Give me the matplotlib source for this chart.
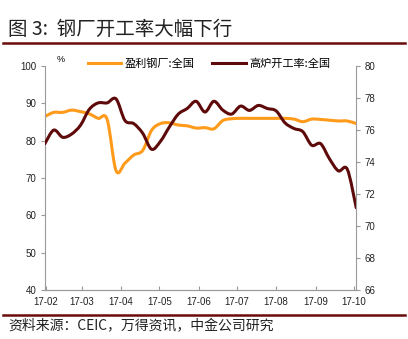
import matplotlib
matplotlib.use("Agg")
import matplotlib.pyplot as plt
import matplotlib.dates as mdates
from matplotlib.lines import Line2D
from matplotlib.path import Path
from matplotlib.patches import PathPatch
import numpy as np
import pandas as pd

plt.rcParams['font.family'] = ['Liberation Sans', 'Noto Sans CJK SC', 'DejaVu Sans']
cjk = ['Noto Sans CJK SC', 'DejaVu Sans']

# 周度数据，2017-01-31 起
dates = pd.date_range('2017-01-31', periods=36, freq='7D')

# 盈利钢厂占比:全国 (%)，左轴
profit_mills = [86.5, 87.6, 87.6, 88.2, 87.8, 87.2, 86.0, 85.7, 72.0, 74.0,
                76.2, 77.4, 82.8, 84.6, 84.8, 84.2, 84.0, 83.4, 83.5, 83.2,
                85.4, 85.9, 86.0, 86.0, 86.0, 86.0, 86.0, 86.0, 85.8, 85.1,
                85.8, 85.7, 85.5, 85.3, 85.3, 84.6]

# 高炉开工率:全国 (%)，右轴
blast_furnace = [75.15, 76.0, 75.55, 75.75, 76.3, 77.3, 77.7, 77.7, 77.95, 76.6,
                 76.4, 75.8, 74.8, 75.3, 76.2, 77.0, 77.35, 77.8, 77.13, 77.8,
                 77.25, 77.0, 77.5, 77.23, 77.54, 77.35, 77.2, 76.45, 76.1, 75.9,
                 75.05, 75.15, 74.2, 73.45, 73.55, 71.15]

orange = '#FF9A1A'
darkred = '#5E0A0A'
rule = '#6B0A0A'
axis_c = '#9A9A9A'


def smooth_line(a, x, y, color, lw=2.2):
    # 平滑折线：用三次贝塞尔曲线连接各数据点（Catmull-Rom 切线）
    x = np.asarray(mdates.date2num(x), float)
    y = np.asarray(y, float)
    pts = np.column_stack([x, y])
    ext = np.vstack([pts[0], pts, pts[-1]])
    verts = [pts[0]]
    codes = [Path.MOVETO]
    for i in range(len(pts) - 1):
        p0, p1, p2, p3 = ext[i], ext[i + 1], ext[i + 2], ext[i + 3]
        c1 = p1 + (p2 - p0) / 6.0
        c2 = p2 - (p3 - p1) / 6.0
        verts += [c1, c2, p2]
        codes += [Path.CURVE4] * 3
    patch = PathPatch(Path(verts, codes), facecolor='none', edgecolor=color,
                      lw=lw, capstyle='round', joinstyle='round')
    a.add_patch(patch)


fig = plt.figure(figsize=(4.08, 3.39), dpi=100)
ax = fig.add_axes([0.110, 0.1445, 0.763, 0.6605])
ax2 = ax.twinx()

smooth_line(ax, dates, profit_mills, orange)
smooth_line(ax2, dates, blast_furnace, darkred)

ax.set_ylim(40, 100)
ax.set_yticks(range(40, 101, 10))
ax2.set_ylim(66, 80)
ax2.set_yticks(range(66, 81, 2))

ax.set_xlim(mdates.date2num(pd.Timestamp('2017-01-31')),
            mdates.date2num(pd.Timestamp('2017-10-03')))
months = pd.date_range('2017-02-01', '2017-10-01', freq='MS')
ax.set_xticks(mdates.date2num(months))
ax.set_xticklabels([d.strftime('%y-%m') for d in months])

for a in (ax, ax2):
    a.spines['top'].set_visible(False)
    a.spines['left'].set_color(axis_c)
    a.spines['right'].set_color(axis_c)
    a.spines['bottom'].set_color(axis_c)
    a.tick_params(colors='#222222', labelsize=7, length=3, width=0.8)
    a.tick_params(axis='both', color=axis_c)
ax.spines['right'].set_visible(False)
ax2.spines['left'].set_visible(False)
ax.tick_params(axis='x', direction='in', pad=5)
ax.tick_params(axis='y', direction='out', length=3, pad=3)
ax2.tick_params(axis='y', direction='out', length=3, pad=3)

# 单位与图例
fig.text(61 / 408, 1 - 60 / 339, '%', fontsize=6.5, ha='center', va='center')
handles = [Line2D([], [], color=orange, lw=2.2),
           Line2D([], [], color=darkred, lw=2.2)]
leg = fig.legend(handles, ['盈利钢厂:全国', '高炉开工率:全国'],
                 loc='center left', bbox_to_anchor=(78 / 408, 1 - 64 / 339),
                 ncol=2, frameon=False, handlelength=3.0, handletextpad=0.3,
                 columnspacing=1.6, prop={'family': cjk, 'size': 8})

# 标题、分隔线和来源
fig.text(8 / 408, 1 - 29 / 339, '图 3:  钢厂开工率大幅下行', fontsize=14,
         family=cjk, color='#222222', style='italic', ha='left', va='center')
fig.add_artist(Line2D([3 / 408, 405 / 408], [1 - 43 / 339, 1 - 43 / 339],
                      color=rule, lw=1.8))
fig.add_artist(Line2D([3 / 408, 405 / 408], [1 - 315 / 339, 1 - 315 / 339],
                      color=rule, lw=1.8))
fig.text(8 / 408, 1 - 326 / 339, '资料来源：CEIC，万得资讯，中金公司研究', fontsize=10,
         family=cjk, color='#222222', style='italic', ha='left', va='center')

fig.savefig('out.png', dpi=100)
